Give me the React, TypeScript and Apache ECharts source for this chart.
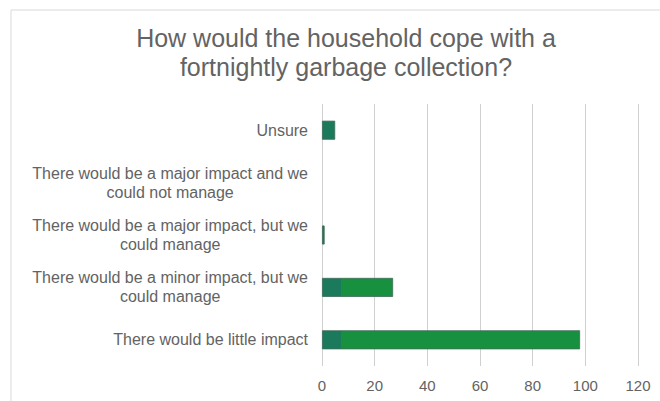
import React, { useEffect, useRef } from "react";
import * as echarts from "echarts";

const titleLines = ["How would the household cope with a", "fortnightly garbage collection?"];
// top to bottom
const categories = [
  "Unsure",
  "There would be a major impact and we could not manage",
  "There would be a major impact, but we could manage",
  "There would be a minor impact, but we could manage",
  "There would be little impact",
];
const values = [5, 0, 1, 27, 98];
const xMin = 0;
const xMax = 120;
const xStep = 20;

const FONT = "'Liberation Sans', Arial, sans-serif";
const TEXT = "#636363";
const LABEL_SIZE = 16;

function wrap(text: string, maxW: number): string[] {
  const ctx = document.createElement("canvas").getContext("2d");
  if (!ctx) return [text];
  ctx.font = `${LABEL_SIZE}px 'Liberation Sans'`;
  const words = text.split(" ");
  const lines: string[] = [];
  let cur = "";
  for (const w of words) {
    const t = cur ? cur + " " + w : w;
    if (cur && ctx.measureText(t).width > maxW) {
      lines.push(cur);
      cur = w;
    } else cur = t;
  }
  if (cur) lines.push(cur);
  return lines;
}

export default function App() {
  const ref = useRef<HTMLDivElement>(null);
  useEffect(() => {
    if (!ref.current) return;
    const chart = echarts.init(ref.current, undefined, { renderer: "svg" });
    const teal = "#1b7a5c";
    const green = "#17913f";
    const data = values.map((v) => {
      const f = v > 0 ? Math.min(1, 7 / v) : 1;
      return {
        value: v,
        itemStyle: {
          borderWidth: v > 0 ? 0.8 : 0,
          color: new echarts.graphic.LinearGradient(0, 0, 1, 0, [
            { offset: 0, color: teal },
            { offset: f, color: teal },
            { offset: f, color: green },
            { offset: 1, color: green },
          ]),
        },
      };
    });
    chart.setOption({
      animation: false,
      backgroundColor: "#ffffff",
      title: {
        text: titleLines.join("\n"),
        left: 341,
        top: 18,
        textAlign: "center",
        textStyle: {
          fontFamily: FONT,
          fontSize: 25,
          lineHeight: 29,
          fontWeight: "normal",
          color: TEXT,
        },
      },
      graphic: [
        {
          type: "rect",
          shape: { x: 11, y: 10, width: 700, height: 500 },
          style: { fill: "none", stroke: "#d9d9d9", lineWidth: 1 },
          silent: true,
        },
      ],
      grid: { left: 322, right: 22, top: 104, bottom: 35 },
      xAxis: {
        type: "value",
        min: xMin,
        max: xMax,
        interval: xStep,
        axisLine: { show: false },
        axisTick: { show: false },
        splitLine: { show: true, lineStyle: { color: "#d0d0d0", width: 1 } },
        axisLabel: {
          color: TEXT,
          fontFamily: FONT,
          fontSize: 15,
          margin: 12,
        },
      },
      yAxis: {
        type: "category",
        data: categories,
        inverse: true,
        axisLine: { show: false },
        axisTick: { show: false },
        axisLabel: {
          margin: 14,
          align: "right",
          formatter: (val: string) =>
            wrap(val, 290)
              .map((l) => `{c|${l}}`)
              .join("\n"),
          rich: {
            c: {
              align: "center",
              fontFamily: FONT,
              fontSize: LABEL_SIZE,
              lineHeight: 19,
              color: TEXT,
            },
          },
        },
      },
      series: [
        {
          type: "bar",
          data,
          barWidth: 19,
          itemStyle: { borderColor: "#3f6b58", borderWidth: 0.8 },
        },
      ],
    });
    return () => chart.dispose();
  }, []);
  return (
    <div
      ref={ref}
      style={{ position: "fixed", left: 0, top: 0, width: 660, height: 401 }}
    />
  );
}
